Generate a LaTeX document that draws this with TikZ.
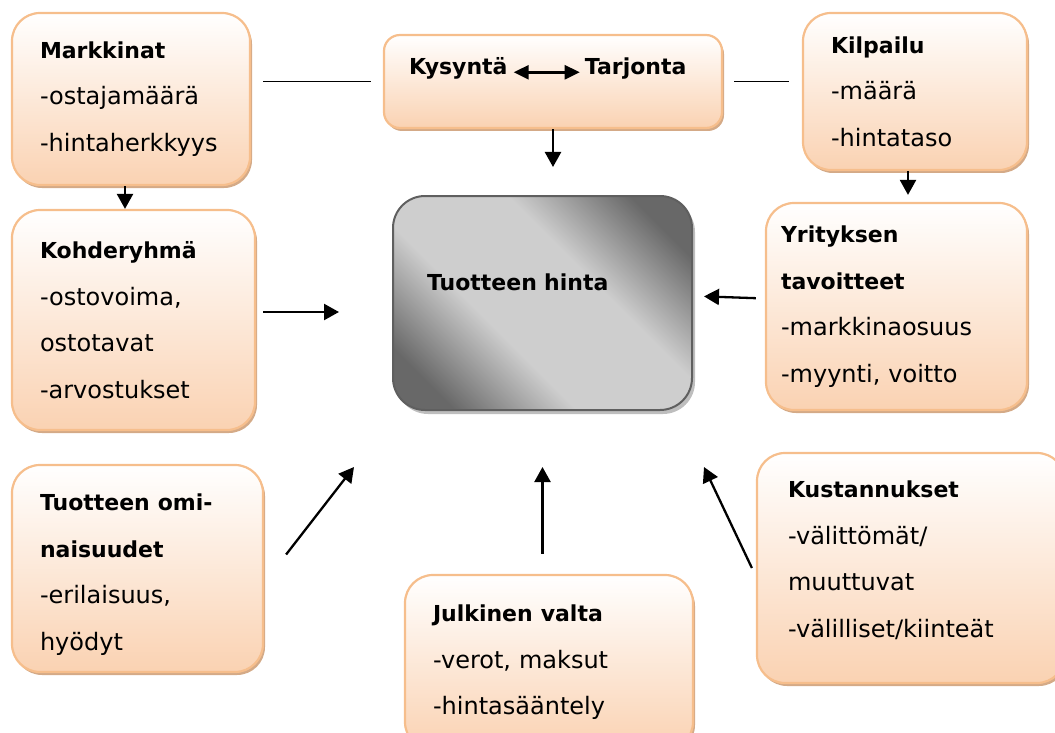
\documentclass[tikz,border=0pt]{standalone}
\usepackage{fontspec}
\setmainfont{DejaVu Sans}
\usetikzlibrary{arrows.meta, positioning, shadows}

\definecolor{boxfill}{RGB}{250,210,178}
\definecolor{boxedge}{RGB}{246,190,140}
\definecolor{boxshadow}{RGB}{212,170,135}
\definecolor{hdark}{RGB}{104,104,104}
\definecolor{hlight}{RGB}{206,206,206}
\definecolor{hintaedge}{RGB}{95,95,95}
\definecolor{hintashadow}{RGB}{190,190,190}

\pgfdeclarehorizontalshading{hintashade}{100bp}{color(0bp)=(hdark); color(23bp)=(hdark); color(40bp)=(hlight); color(60bp)=(hlight); color(77bp)=(hdark); color(100bp)=(hdark)}

\newcommand{\hd}[1]{{\fontsize{22}{46.5}\selectfont\bfseries #1}}

\begin{document}
\begin{tikzpicture}[
    x=1pt, y=-1pt,
    factor/.style={rectangle, rounded corners=28pt, draw=boxedge, line width=2.2pt,
        top color=white, bottom color=boxfill,
        general shadow={fill=boxshadow, shadow xshift=2pt, shadow yshift=-3pt},
        align=left, inner xsep=28pt, font=\fontsize{24}{46.5}\selectfont},
    price/.style={rectangle, rounded corners=32pt, draw=hintaedge, line width=2pt,
        shading=hintashade, shading angle=45,
        general shadow={fill=hintashadow, shadow xshift=3pt, shadow yshift=-4pt},
        align=left, inner xsep=34pt, font=\fontsize{22}{26}\selectfont\bfseries},
    word/.style={inner sep=0pt, font=\fontsize{22}{26}\selectfont\bfseries},
    arrow/.style={-{Triangle[length=15pt, width=16pt]}, line width=2.3pt},
    dblarrow/.style={{Triangle[length=15pt, width=14pt]}-{Triangle[length=15pt, width=14pt]}, line width=2.5pt},
    link/.style={line width=1.4pt}
]
    \useasboundingbox (0,0) rectangle (1055,733);
    \clip (0,0) rectangle (1055,733);

    % vasen sarake
    \node[factor, minimum width=238pt, minimum height=172pt, text width=182pt] (markkinat) at (131,99)
        {\hd{Markkinat}\\-ostajamäärä\\-hintaherkkyys};
    \node[factor, minimum width=243pt, minimum height=220pt, text width=187pt] (kohderyhma) at (133.5,320)
        {\hd{Kohderyhmä}\\-ostovoima,\\ostotavat\\-arvostukset};
    \node[factor, minimum width=251pt, minimum height=207pt, text width=195pt] (ominaisuudet) at (137.5,568.5)
        {\hd{Tuotteen omi-}\rule{0pt}{29pt}\\\hd{naisuudet}\\-erilaisuus,\\hyödyt};

    % keskisarake
    \node[factor, rounded corners=16pt, minimum width=338pt, minimum height=93pt] (kystar) at (553,81.5) {};
    \node[word, anchor=base west] (kysynta) at ([shift={(26pt,6.5pt)}]kystar.west) {Kysyntä};
    \node[word, base right=77pt of kysynta] (tarjonta) {Tarjonta};
    \node[price, minimum width=299pt, minimum height=214pt, text width=231pt,
        text height=17pt, text depth=43pt] (hinta) at (542.5,303) {Tuotteen hinta};
    \node[factor, minimum width=288pt, minimum height=175pt, text width=232pt] (julkinen) at (549,662.5)
        {\hd{Julkinen valta}\\-verot, maksut\\-hintasääntely};

    % oikea sarake
    \node[factor, minimum width=224pt, minimum height=157pt, text width=168pt] (kilpailu) at (915,91.5)
        {\hd{Kilpailu}\\-määrä\\-hintataso};
    \node[factor, inner xsep=15pt, minimum width=261pt, minimum height=207pt, text width=231pt] (yritys) at (896.5,306.5)
        {\hd{Yrityksen}\\\hd{tavoitteet}\\-markkinaosuus\\-myynti, voitto};
    \node[factor, inner xsep=31pt, minimum width=308pt, minimum height=230pt, text width=246pt] (kustannukset) at (911,568)
        {\hd{Kustannukset}\\-välittömät/\\muuttuvat\\-välilliset/kiinteät\rule[-18pt]{0pt}{0pt}};

    % yhteydet
    \draw[dblarrow, shorten <=6pt, shorten >=5pt] (kysynta.mid east) -- (tarjonta.mid west);
    \draw[link, shorten <=12pt, shorten >=12pt] (markkinat.east |- kystar.west) -- (kystar.west);
    \draw[link, shorten <=11pt, shorten >=13pt] (kystar.east) -- (kystar.east -| kilpailu.west);
    \draw[arrow] ([xshift=-6pt]markkinat.south) -- ([xshift=-6pt]markkinat.south |- kohderyhma.north);
    \draw[arrow, shorten >=28pt] (kystar.south) -- (kystar.south |- hinta.north);
    \draw[arrow, shorten >=7pt] ([xshift=-7pt]kilpailu.south) -- ([xshift=-7pt]kilpailu.south |- yritys.north);
    \draw[arrow, shorten <=7pt, shorten >=53pt] ([yshift=8pt]kohderyhma.east) -- ([yshift=8pt]kohderyhma.east -| hinta.west);
    \draw[arrow, shorten <=9pt, shorten >=11pt] ([yshift=8pt]yritys.west) -- ([yshift=7pt]hinta.east);
    \draw[arrow] ([shift={(22pt,14pt)}]ominaisuudet.east) -- ([shift={(-38pt,-56pt)}]hinta.south west);
    \draw[arrow, shorten <=20pt, shorten >=56pt] (julkinen.north -| hinta.south) -- (hinta.south);
    \draw[arrow] ([xshift=-4pt]kustannukset.west) -- ([shift={(11pt,-56pt)}]hinta.south east);
\end{tikzpicture}
\end{document}
